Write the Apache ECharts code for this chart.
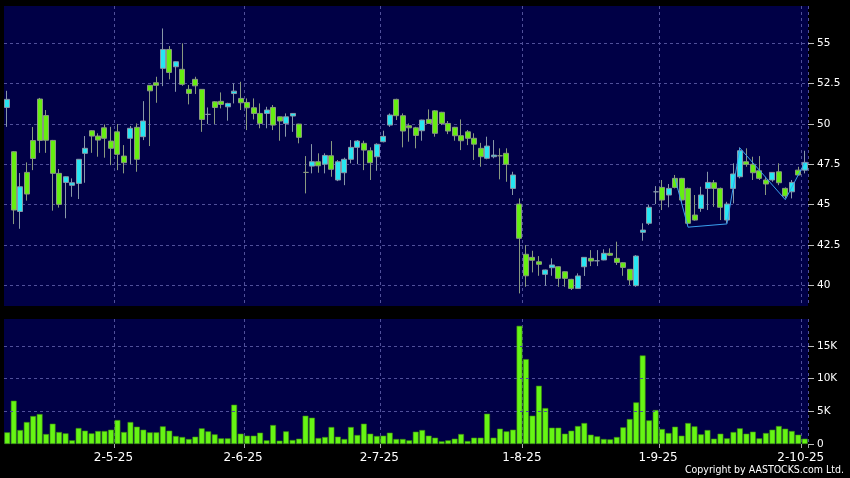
<!DOCTYPE html>
<html><head><meta charset="utf-8">
<script src="https://cdn.jsdelivr.net/npm/echarts@6/dist/echarts.min.js"></script>
<style>html,body{margin:0;padding:0;background:#000;}#c{width:850px;height:478px;}</style>
</head><body><div id="c"></div>
<script>
const dates = ['3-4-25','7-4-25','8-4-25','9-4-25','10-4-25','11-4-25','14-4-25','15-4-25','16-4-25','17-4-25','22-4-25','23-4-25','24-4-25','25-4-25','28-4-25','29-4-25','30-4-25',
'2-5-25','6-5-25','7-5-25','8-5-25','9-5-25','12-5-25','13-5-25','14-5-25','15-5-25','16-5-25','19-5-25','20-5-25','21-5-25','22-5-25','23-5-25','26-5-25','27-5-25','28-5-25','29-5-25','30-5-25',
'2-6-25','3-6-25','4-6-25','5-6-25','6-6-25','9-6-25','10-6-25','11-6-25','12-6-25','13-6-25','16-6-25','17-6-25','18-6-25','19-6-25','20-6-25','23-6-25','24-6-25','25-6-25','26-6-25','27-6-25','30-6-25',
'2-7-25','3-7-25','4-7-25','7-7-25','8-7-25','9-7-25','10-7-25','11-7-25','14-7-25','15-7-25','16-7-25','17-7-25','18-7-25','21-7-25','22-7-25','23-7-25','24-7-25','25-7-25','28-7-25','29-7-25','30-7-25','31-7-25',
'1-8-25','4-8-25','5-8-25','6-8-25','7-8-25','8-8-25','11-8-25','12-8-25','13-8-25','14-8-25','15-8-25','18-8-25','19-8-25','20-8-25','21-8-25','22-8-25','25-8-25','26-8-25','27-8-25','28-8-25','29-8-25',
'1-9-25','2-9-25','3-9-25','4-9-25','5-9-25','8-9-25','9-9-25','10-9-25','11-9-25','12-9-25','15-9-25','16-9-25','17-9-25','18-9-25','19-9-25','22-9-25','23-9-25','24-9-25','25-9-25','26-9-25','29-9-25','30-9-25',
'2-10-25'];

const opens = [51.01,48.27,44.57,46.99,48.96,51.53,50.51,48.97,46.93,46.37,46.19,46.31,48.17,49.57,49.24,49.75,48.93,
49.5,48.0,49.1,49.78,49.2,52.38,52.54,53.43,54.6,53.53,53.37,52.13,52.75,52.13,50.58,51.36,51.39,51.05,51.87,51.57,
51.32,50.99,50.64,50.64,51.01,50.43,50.02,50.48,49.98,46.99,47.38,47.65,47.5,48.02,46.52,46.97,47.8,48.54,48.79,48.33,47.96,
48.89,49.92,51.51,50.5,49.88,49.75,49.57,50.27,50.8,50.71,50.02,49.78,49.26,49.5,49.1,48.48,47.86,47.96,48.02,48.17,46.0,45.03,
41.92,41.73,41.46,40.68,41.09,41.15,40.84,40.37,39.81,41.15,41.67,41.52,41.57,41.98,41.67,41.4,40.99,39.98,43.28,43.84,45.79,
46.06,45.59,46.62,46.62,46.0,44.35,44.76,46.0,46.35,46.0,44.04,46.0,46.72,47.65,47.49,47.09,46.52,46.52,47.03,46.0,45.79,47.13,
47.13];
const closes = [51.51,44.66,46.10,45.65,47.85,48.97,48.98,46.93,45.01,46.72,46.35,47.8,48.48,49.24,48.99,49.1,48.48,
48.11,47.59,49.72,47.8,50.17,52.04,52.38,54.6,53.18,53.84,52.44,51.88,52.35,50.27,50.58,51.01,51.2,51.26,52.02,51.3,
50.99,50.64,50.02,50.85,49.92,50.17,50.43,50.64,49.16,46.99,47.65,47.4,48.04,47.18,47.65,47.8,48.54,48.93,48.37,47.59,48.73,
49.22,50.54,50.5,49.55,49.75,49.28,50.23,50.02,49.41,50.02,49.55,49.26,48.95,49.1,48.74,47.96,48.62,48.06,48.02,47.49,46.83,42.91,
40.59,41.55,41.3,40.95,41.26,40.43,40.43,39.81,40.58,41.73,41.5,41.52,41.98,41.86,41.42,41.11,40.33,41.81,43.42,44.83,45.79,
45.28,46.0,46.06,45.28,43.84,44.04,45.59,46.37,46.0,44.83,45.03,46.89,48.33,47.49,46.97,46.62,46.27,46.99,46.35,45.53,46.37,46.83,
47.61];
const lows = [49.81,43.79,43.5,45.24,47.13,48.2,48.2,44.62,44.81,44.15,45.48,45.34,46.35,48.2,47.96,47.9,47.44,
47.13,46.93,47.5,47.03,48.99,48.62,51.3,52.33,52.75,51.98,52.35,51.2,51.84,49.5,49.98,49.98,50.95,50.19,51.26,50.85,
49.61,50.27,49.72,49.72,49.61,48.95,49.2,49.5,48.79,45.69,46.93,46.97,46.93,46.72,46.45,46.2,47.55,47.5,47.13,46.52,47.09,
48.85,49.81,50.23,48.54,48.89,48.48,48.95,50.0,49.2,49.92,49.36,48.95,48.37,48.68,47.76,47.34,47.8,47.86,46.56,46.41,45.59,39.5,
39.91,40.8,40.59,39.98,40.59,39.91,39.91,39.71,39.8,40.58,41.19,41.19,41.55,41.81,41.26,40.59,40.02,39.91,42.76,43.73,45.03,
44.66,44.83,46.0,45.17,43.73,44.0,44.55,44.66,44.86,44.04,43.84,45.07,46.62,47.34,46.52,46.52,45.59,46.41,46.2,45.38,45.38,46.8,
46.93];
const highs = [52.04,48.3,46.95,47.61,49.8,51.6,50.85,49.0,47.2,46.75,46.62,47.82,49.24,49.6,49.41,49.96,49.81,
49.98,48.68,49.86,50.02,51.4,52.4,52.91,55.9,54.81,53.86,54.98,52.4,52.91,52.15,51.01,51.4,51.94,51.3,52.5,52.6,
51.57,51.57,51.26,51.05,51.16,50.45,50.64,50.66,50.0,48.0,48.74,48.17,48.17,48.93,47.75,47.9,48.99,48.99,48.95,48.54,48.79,
49.57,50.64,51.55,50.64,50.02,49.81,50.25,50.89,50.85,50.74,50.17,49.81,50.27,49.61,49.41,48.82,49.2,48.99,48.48,48.48,47.03,45.38,
42.49,42.14,41.81,40.97,41.67,41.17,40.86,40.4,40.74,41.75,42.18,42.18,42.23,42.29,42.7,41.42,41.0,41.87,43.84,44.97,46.14,
46.52,46.27,46.83,46.65,46.05,45.59,46.1,47.03,46.52,46.05,45.17,47.55,48.54,48.48,47.96,48.0,46.72,47.0,47.55,46.06,46.52,47.34,
48.33];
const volumes = [1785,6630,2142,3366,4284,4590,1530,3111,1836,1632,561,2448,2040,1632,1989,1989,2193,
3672,1836,3366,2652,2193,1785,1785,2703,2040,1224,1071,765,1122,2397,1938,1479,867,867,6018,1581,
1275,1275,1734,561,2907,510,1938,612,816,4335,4029,918,1071,2601,1122,765,2601,1377,3111,1581,1224,
1275,1734,765,765,561,1887,2142,1275,969,408,561,816,1530,459,969,969,4641,969,2346,1938,2193,18105,
13005,4335,8925,5508,2499,2499,1581,2040,2754,3213,1428,1173,765,714,1071,2550,3825,6375,13566,3621,5202,
2295,1683,2652,1275,3213,2703,1479,2142,816,1581,867,1836,2397,1581,1887,867,1683,2193,2754,2346,1989,1428,
816];
const zigzagDates = ['3-9-25','5-9-25','15-9-25','17-9-25','26-9-25','2-10-25'];
const zigzagValues = [46.6,43.6,43.8,48.5,45.3,47.6];
const monthLabels = ['2-5-25','2-6-25','2-7-25','1-8-25','1-9-25','2-10-25'];
const priceTicks = [40,42.5,45,47.5,50,52.5,55];
const volumeTicks = [0,5000,10000,15000];
const volumeGrid = [5000,10000,15000];

const isMonth = (i) => monthLabels.indexOf(dates[i]) >= 0;
const gridLine = {color:'#50509a', type:[3,3], width:1};
const chart = echarts.init(document.getElementById('c'));
chart.setOption({
  animation:false,
  backgroundColor:'#000000',
  grid:[
    {left:4, right:42, top:6, height:300, show:true, backgroundColor:'#000046', borderWidth:0},
    {left:4, right:42, top:319, height:125, show:true, backgroundColor:'#000046', borderWidth:0}
  ],
  xAxis:[
    {type:'category', gridIndex:0, data:dates, boundaryGap:true,
     axisLine:{show:false}, axisTick:{show:false}, axisLabel:{show:false},
     splitLine:{show:true, interval:(i)=>isMonth(i), lineStyle:gridLine}},
    {type:'category', gridIndex:1, data:dates, boundaryGap:true,
     axisLine:{show:false},
     axisTick:{show:true, interval:(i)=>isMonth(i), length:4, lineStyle:{color:'#aaaaaa'}},
     axisLabel:{show:true, interval:(i)=>isMonth(i), color:'#ffffff', fontSize:12, fontFamily:'DejaVu Sans', margin:8, padding:[0,8,0,0]},
     splitLine:{show:true, interval:(i)=>isMonth(i), lineStyle:gridLine}}
  ],
  yAxis:[
    {type:'value', gridIndex:0, position:'right', min:38.72, max:57.29, scale:true,
     splitLine:{show:false}, axisLine:{show:false},
     axisTick:{show:true, customValues:priceTicks, length:6, lineStyle:{color:'#bbbbbb'}},
     axisLabel:{show:true, customValues:priceTicks, color:'#ffffff', fontSize:10.5, fontFamily:'DejaVu Sans', margin:9, formatter:(v)=>String(v)}},
    {type:'value', gridIndex:1, position:'right', min:0, max:19150,
     splitLine:{show:false}, axisLine:{show:false},
     axisTick:{show:true, customValues:volumeTicks, length:6, lineStyle:{color:'#bbbbbb'}},
     axisLabel:{show:true, customValues:volumeTicks, color:'#ffffff', fontSize:10.5, fontFamily:'DejaVu Sans', margin:9, formatter:(v)=> v===0 ? '0' : (v/1000)+'K'}}
  ],
  series:[
    {type:'candlestick', xAxisIndex:0, yAxisIndex:0, barWidth:5.5,
     data: opens.map((o,i)=>[o, closes[i], lows[i], highs[i]]),
     itemStyle:{color:'#26e6f2', color0:'#66ee11', borderColor:'#8898a8', borderColor0:'#8a9a80', borderWidth:1},
     markLine:{silent:true, symbol:'none', label:{show:false}, lineStyle:gridLine, z:1,
       data: priceTicks.map(v=>({yAxis:v}))}},
    {type:'line', xAxisIndex:0, yAxisIndex:0, symbol:'none', z:5,
     data: zigzagDates.map((d,i)=>[d, zigzagValues[i]]),
     lineStyle:{color:'#3aa0f0', width:1}},
    {type:'bar', xAxisIndex:1, yAxisIndex:1, barWidth:5.8,
     data: volumes,
     itemStyle:{color:'#66f514', borderColor:'#3c8a10', borderWidth:0.6},
     markLine:{silent:true, symbol:'none', label:{show:false}, lineStyle:gridLine,
       data: volumeGrid.map(v=>({yAxis:v}))}}
  ],
  graphic:[
    {type:'text', right:6, top:465, style:{text:'Copyright by AASTOCKS.com Ltd.', fill:'#ffffff', font:'10.5px "DejaVu Sans Condensed", "DejaVu Sans", sans-serif'}}
  ]
});
</script>
</body></html>
